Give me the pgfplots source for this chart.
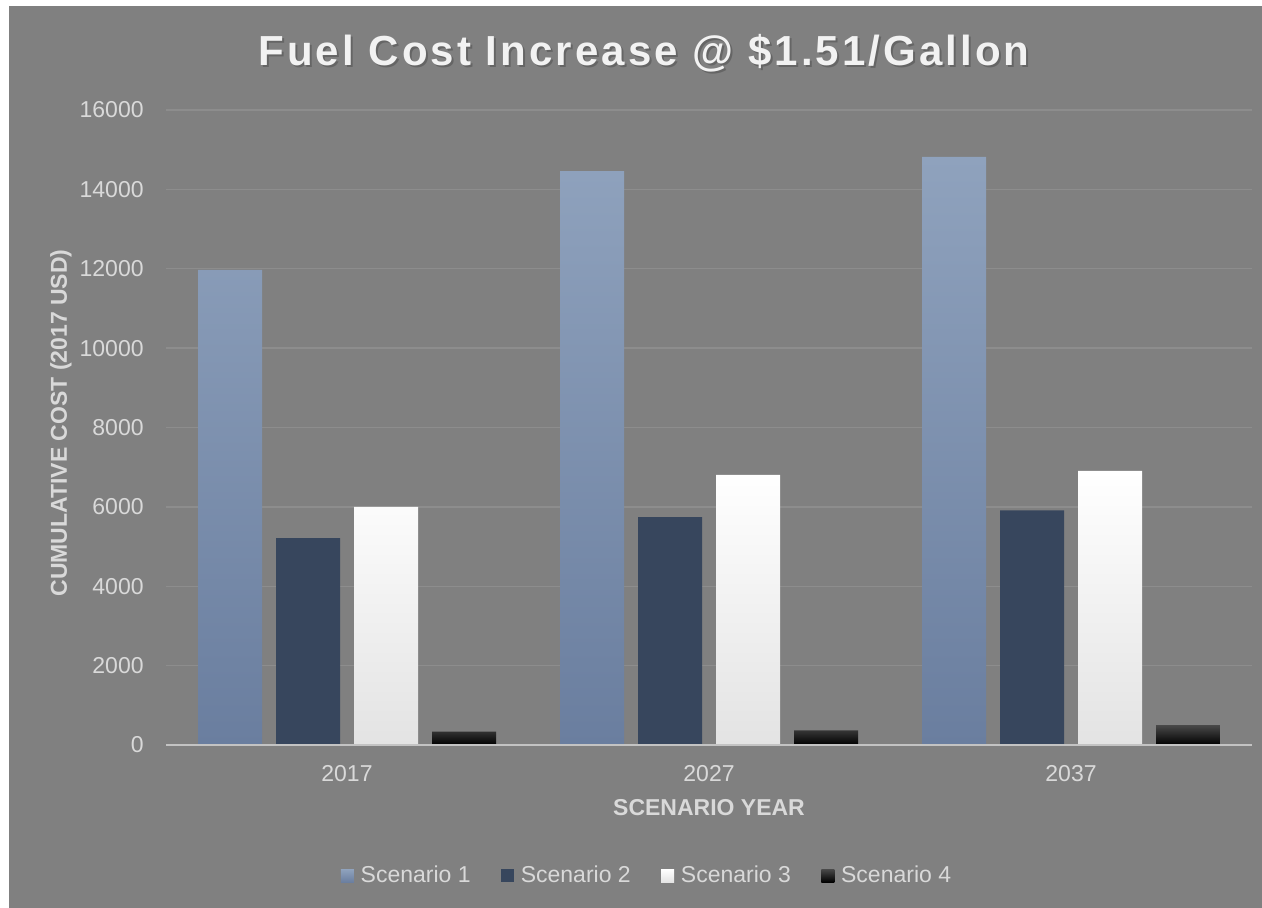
\documentclass[border=0pt]{standalone}
\usepackage{pgfplots}
\pgfplotsset{compat=1.18}
\usepackage{pgfplotstable}
\usepackage{fontspec}
\setmainfont{Liberation Sans}
\definecolor{bg}{RGB}{128,128,128}
\definecolor{gridc}{RGB}{141,141,141}
\definecolor{axl}{RGB}{195,195,195}
\definecolor{txt}{RGB}{217,217,217}
\definecolor{ttl}{RGB}{242,242,242}
\definecolor{sAtop}{RGB}{143,162,189}
\definecolor{sAbot}{RGB}{106,126,159}
\definecolor{sB}{RGB}{55,70,93}
\definecolor{sC}{RGB}{227,227,227}
\definecolor{sDtop}{RGB}{72,72,72}
\pgfplotstableread{
x S1 S2 S3 S4
0 11970 5214 6000 338
1 14458 5741 6806 368
2 14816 5910 6905 498
}\data
\begin{document}
\begin{tikzpicture}
\fill[white] (0,0) rectangle (631pt,454pt);
\fill[bg] (4.5pt,0) rectangle (631pt,451pt);
\begin{axis}[
  at={(83pt,81.5pt)}, anchor=south west,
  scale only axis, width=543pt, height=317.5pt,
  xmin=-0.5, xmax=2.5, ymin=0, ymax=16000,
  ybar=7pt, bar width=32pt,
  axis line style={draw=none},
  axis x line*=bottom, axis y line*=left,
  xtick={0,1,2}, xticklabels={2017,2027,2037},
  ytick={0,2000,...,16000},
  major tick length=0pt,
  xmajorgrids=false, ymajorgrids=true,
  major grid style={draw=gridc, line width=0.7pt},
  /pgf/number format/assume math mode=true,
  scaled y ticks=false,
  yticklabel={\pgfmathprintnumber[fixed,precision=0,1000 sep={}]{\tick}},
  tick label style={font=\fontsize{11.5}{13}\selectfont, text=txt},
  yticklabel style={anchor=east, inner sep=0pt, xshift=-11pt},
  xticklabel style={anchor=base, inner sep=0pt, yshift=-18.5pt},
  legend style={at={(0.444,-0.206)}, anchor=center, draw=none, fill=none,
    legend columns=4, font=\fontsize{11.5}{13}\selectfont, text=txt,
    /tikz/every even column/.append style={column sep=13pt},
    /tikz/every odd column/.append style={column sep=1.2pt},
    nodes={inner sep=2.2pt}},
  legsq/.style={legend image code/.code={\path[##1] (0pt,-3.25pt) rectangle (6.5pt,3.25pt);}},
  clip=false,
]
\addplot[draw=none, top color=sAtop, bottom color=sAbot, legsq] table[x=x,y=S1]{\data};
\addplot[draw=none, fill=sB, legsq] table[x=x,y=S2]{\data};
\addplot[draw=none, top color=white, middle color=white, bottom color=sC, legsq] table[x=x,y=S3]{\data};
\addplot[draw=none, top color=sDtop, middle color=black, bottom color=black, legsq] table[x=x,y=S4]{\data};
\legend{Scenario 1,Scenario 2,Scenario 3,Scenario 4}
\draw[axl, line width=1.3pt] (rel axis cs:0,0) -- (rel axis cs:1,0);
\end{axis}
\node[font=\fontsize{21}{25}\selectfont\bfseries\addfontfeatures{LetterSpace=7.3}, text=black!70, opacity=0.5, anchor=base] at (323pt,420.3pt) {Fuel Cost Increase @ \$1.51/Gallon};
\node[font=\fontsize{21}{25}\selectfont\bfseries\addfontfeatures{LetterSpace=7.3}, text=ttl, anchor=base] at (322pt,421pt) {Fuel Cost Increase @ \$1.51/Gallon};
\node[font=\fontsize{11.5}{13}\selectfont\bfseries, text=txt, rotate=90, anchor=center] at (30.5pt,242.5pt) {CUMULATIVE COST (2017 USD)};
\node[font=\fontsize{11.5}{13}\selectfont\bfseries, text=txt, anchor=base] at (354.5pt,46pt) {SCENARIO YEAR};
\pgfresetboundingbox
\path[use as bounding box] (0,0) rectangle (631pt,454pt);
\end{tikzpicture}
\end{document}
